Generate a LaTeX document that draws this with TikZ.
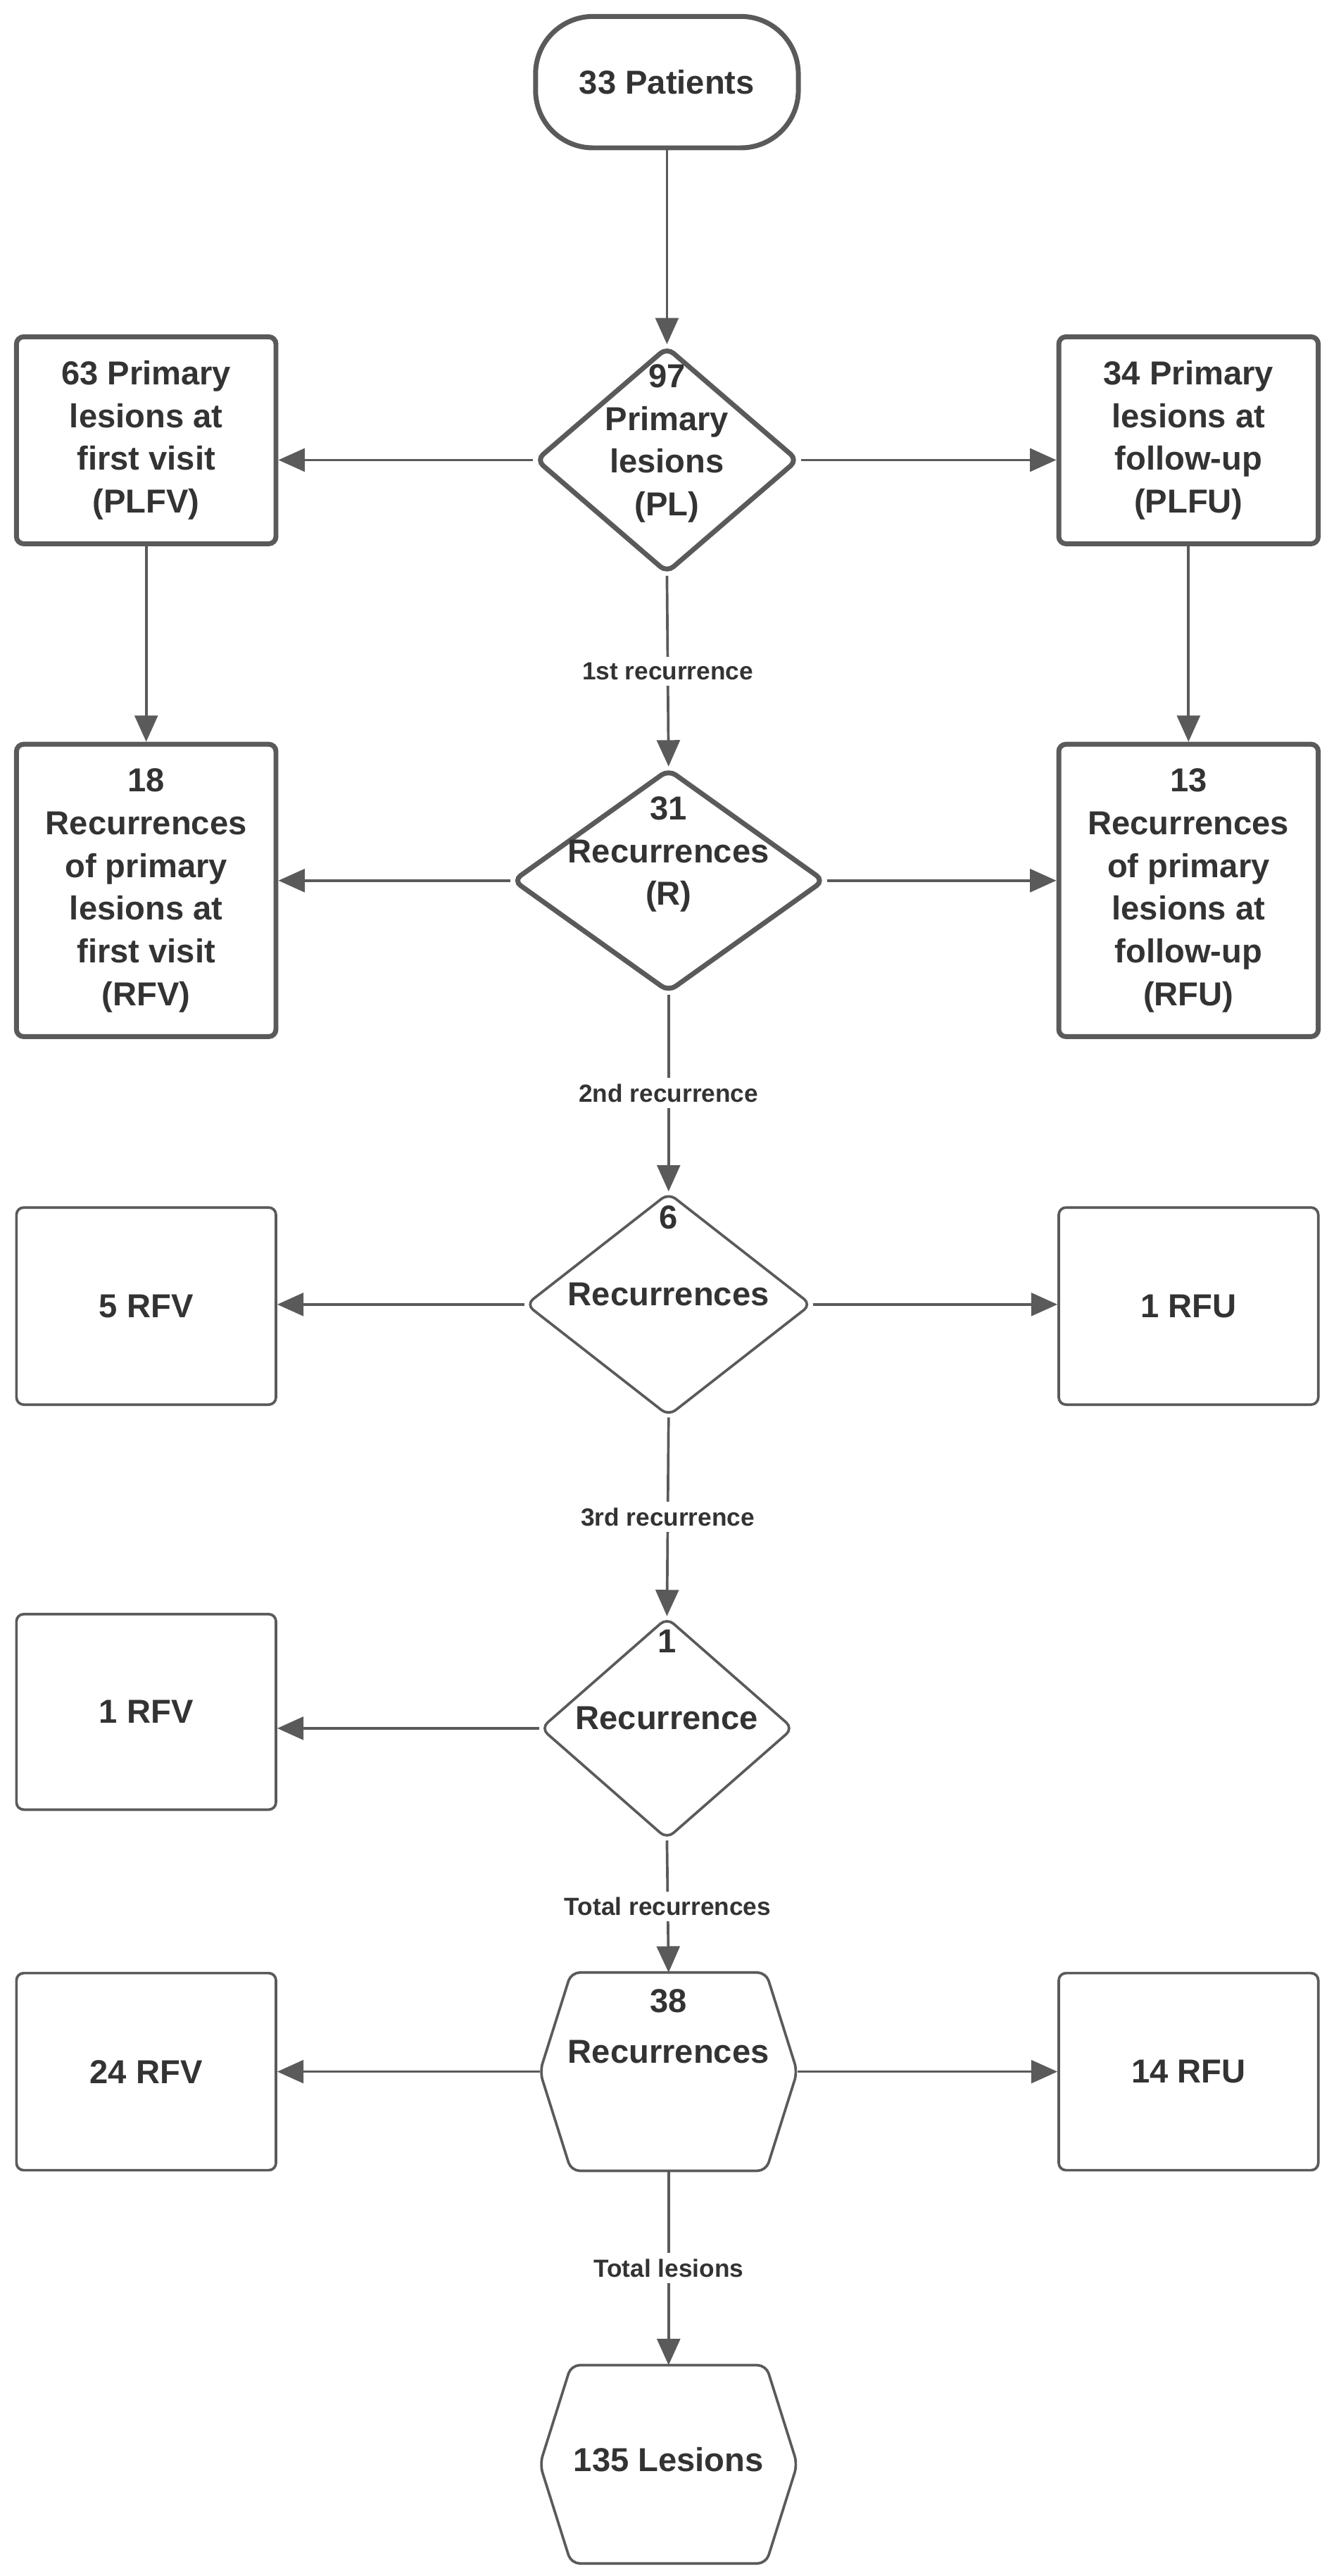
\documentclass[tikz,border=0pt]{standalone}
\usepackage{fontspec}
\setmainfont{Liberation Sans}
\usetikzlibrary{shapes.geometric,arrows.meta,calc}
\definecolor{ln}{HTML}{5A5A5A}
\definecolor{tx}{HTML}{333333}
\begin{document}
\begin{tikzpicture}[x=0.02cm,y=-0.02cm,
  font=\bfseries\fontsize{11.5}{14.8}\selectfont, text=tx,
  thick/.style={draw=ln,line width=1.7pt},
  thin/.style={draw=ln,line width=0.9pt},
  box/.style={rectangle,rounded corners=2.5pt,inner sep=0pt,align=center},
  dia/.style={diamond,inner sep=0pt,rounded corners=3pt},
  hexa/.style={rectangle,inner sep=0pt,draw=none},
  arr/.style={draw=ln,line width=0.9pt,-{Triangle[length=0.32cm,width=0.28cm]}},
  lab/.style={fill=white,font=\bfseries\fontsize{8.6}{10}\selectfont,inner sep=2pt}]
\useasboundingbox (0,0) rectangle (812,1568);
% nodes
\node[box,thick,rounded corners=0.7cm,minimum width=3.2cm,minimum height=1.6cm] (pat) at (406,50) {33 Patients};
\node[dia,thick,minimum width=3.2cm,minimum height=2.76cm] (PL) at (406,280) {};
\node[align=center] at (406,270) {97\\Primary\\lesions\\(PL)};
\node[box,thick,minimum width=3.16cm,minimum height=2.52cm] (PLFV) at (89,268) {63 Primary\\lesions at\\first visit\\(PLFV)};
\node[box,thick,minimum width=3.16cm,minimum height=2.52cm] (PLFU) at (723.5,268) {34 Primary\\lesions at\\follow-up\\(PLFU)};
\node[dia,thick,minimum width=3.8cm,minimum height=2.72cm] (R) at (407,536) {};
\node[align=center] at (407,520) {31\\Recurrences\\(R)};
\node[box,thick,minimum width=3.16cm,minimum height=3.56cm] (RFV) at (89,542) {18\\Recurrences\\of primary\\lesions at\\first visit\\(RFV)};
\node[box,thick,minimum width=3.16cm,minimum height=3.56cm] (RFU) at (723.5,542) {13\\Recurrences\\of primary\\lesions at\\follow-up\\(RFU)};
\node[dia,thin,minimum width=3.48cm,minimum height=2.72cm] (D6) at (407,794) {};
\node at (407,741) {6};
\node at (407,788) {Recurrences};
\node[box,thin,minimum width=3.16cm,minimum height=2.4cm] (V5) at (89,795) {5 RFV};
\node[box,thin,minimum width=3.16cm,minimum height=2.4cm] (U1) at (723.5,795) {1 RFU};
\node[dia,thin,minimum width=3.08cm,minimum height=2.7cm] (D1) at (406,1052) {};
\node at (406,999) {1};
\node at (406,1046) {Recurrence};
\node[box,thin,minimum width=3.16cm,minimum height=2.38cm] (V1) at (89,1042) {1 RFV};
\node[hexa,minimum width=3.12cm,minimum height=2.4cm] (H38) at (407,1261) {};
\draw[thin,rounded corners=3pt] (H38.west) -- ($(H38.north west)+(19,0)$) -- ($(H38.north east)+(-19,0)$) -- (H38.east) -- ($(H38.south east)+(-19,0)$) -- ($(H38.south west)+(19,0)$) -- cycle;
\node at (407,1218) {38};
\node at (407,1249) {Recurrences};
\node[box,thin,minimum width=3.16cm,minimum height=2.4cm] (V24) at (89,1261) {24 RFV};
\node[box,thin,minimum width=3.16cm,minimum height=2.4cm] (U14) at (723.5,1261) {14 RFU};
\node[hexa,minimum width=3.12cm,minimum height=2.4cm] (H135) at (407,1500) {};
\draw[thin,rounded corners=3pt] (H135.west) -- ($(H135.north west)+(19,0)$) -- ($(H135.north east)+(-19,0)$) -- (H135.east) -- ($(H135.south east)+(-19,0)$) -- ($(H135.south west)+(19,0)$) -- cycle;
\node at (407,1497) {135 Lesions};
% connectors
\draw[arr] (pat.south) -- (PL.north);
\draw[arr] (PL.west) -- (PL.west -| PLFV.east);
\draw[arr] (PL.east) -- (PL.east -| PLFU.west);
\draw[arr] (PLFV.south) -- (RFV.north);
\draw[arr] (PLFU.south) -- (RFU.north);
\draw[arr] (PL.south) -- node[lab]{1st recurrence} (R.north);
\draw[arr] (R.west) -- (R.west -| RFV.east);
\draw[arr] (R.east) -- (R.east -| RFU.west);
\draw[arr] (R.south) -- node[lab]{2nd recurrence} (D6.north);
\draw[arr] (D6.west) -- (D6.west -| V5.east);
\draw[arr] (D6.east) -- (D6.east -| U1.west);
\draw[arr] (D6.south) -- node[lab]{3rd recurrence} (D1.north);
\draw[arr] (D1.west) -- (D1.west -| V1.east);
\draw[arr] (D1.south) -- node[lab]{Total recurrences} (H38.north);
\draw[arr] (H38.west) -- (V24.east);
\draw[arr] (H38.east) -- (U14.west);
\draw[arr] (H38.south) -- node[lab]{Total lesions} (H135.north);
\end{tikzpicture}
\end{document}
